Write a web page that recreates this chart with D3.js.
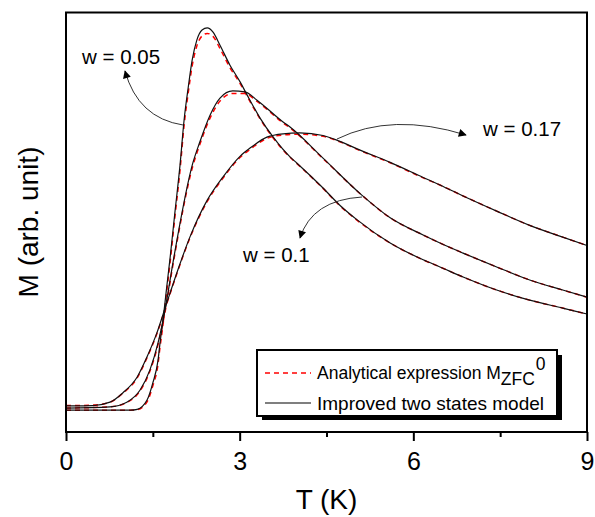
<!DOCTYPE html>
<html>
<head>
<meta charset="utf-8">
<script src="https://cdn.jsdelivr.net/npm/d3@7"></script>
<style>
  html, body { margin: 0; padding: 0; background: #fff; }
  svg { display: block; font-family: "Liberation Sans", Arial, sans-serif; }
</style>
</head>
<body>
<svg id="chart" width="595" height="517"></svg>
<script>
// ZFC magnetisation curves M(T) for three distribution widths w
const tW005 = [0, 0.59, 1.11, 1.23, 1.40, 1.50, 1.59, 1.62, 1.68, 1.73, 1.80, 1.88, 1.97, 2.04, 2.11, 2.18, 2.26, 2.35, 2.44, 2.54, 2.66, 2.83, 3.01, 3.13, 3.35, 3.58, 3.87, 3.99, 4.44, 4.73, 5.03, 5.60, 6.17, 6.46, 6.86, 7.44, 8.01, 8.58, 9.0];
const modelW005 = [5.2, 5.2, 5.2, 5.4, 7.6, 11.7, 17.1, 20.7, 27.1, 33.3, 41.7, 52.1, 63.6, 74.3, 81.9, 88.6, 93.3, 95.7, 96.2, 95.2, 92.1, 87.4, 83.3, 80.2, 74.8, 70.2, 65.5, 64.0, 58.1, 54.0, 50.5, 45.0, 41.0, 39.3, 36.9, 33.8, 31.4, 29.5, 28.1];
const analyticW005 = [5.2, 5.2, 5.2, 5.3, 7.2, 11.0, 16.2, 19.7, 26.0, 32.2, 40.6, 51.0, 62.4, 73.0, 80.6, 87.2, 91.9, 94.3, 94.9, 94.2, 91.3, 86.8, 82.9, 79.9, 74.6, 70.0, 65.4, 63.9, 58.0, 53.9, 50.4, 45.0, 41.0, 39.3, 36.9, 33.8, 31.4, 29.5, 28.1];

const tW01 = [0, 0.76, 1.05, 1.28, 1.45, 1.59, 1.71, 1.85, 2.19, 2.31, 2.49, 2.66, 2.88, 3.09, 3.30, 3.75, 3.87, 4.44, 5.11, 5.60, 6.17, 6.46, 6.86, 7.44, 8.01, 8.58, 9.0];
const modelW01 = [5.7, 6.0, 7.1, 10.0, 14.8, 21.2, 29.0, 40.5, 64.0, 69.0, 75.5, 79.5, 81.2, 81.0, 79.0, 73.8, 72.6, 65.2, 56.4, 51.0, 46.9, 45.0, 42.6, 39.3, 36.2, 33.8, 32.1];
const analyticW01 = [5.7, 6.0, 7.0, 9.8, 14.5, 20.8, 28.5, 40.0, 63.3, 68.4, 74.8, 78.8, 80.6, 80.6, 78.7, 73.6, 72.4, 65.1, 56.4, 51.0, 46.9, 45.0, 42.6, 39.3, 36.2, 33.8, 32.1];

const tW017 = [0, 0.12, 0.47, 0.76, 0.98, 1.23, 1.40, 1.57, 1.74, 1.92, 2.14, 2.44, 2.71, 3.01, 3.18, 3.47, 3.75, 4.04, 4.44, 4.73, 5.03, 5.60, 6.17, 6.46, 6.86, 7.44, 8.01, 8.58, 9.0];
const modelW017 = [6.2, 6.2, 6.3, 7.1, 9.3, 13.1, 17.9, 23.6, 30.7, 38.1, 46.4, 55.2, 60.7, 65.7, 67.6, 70.2, 71.0, 71.2, 70.6, 69.2, 67.4, 64.2, 60.6, 58.8, 56.2, 52.6, 49.2, 46.4, 44.4];
const analyticW017 = [6.3, 6.3, 6.4, 7.1, 9.2, 12.9, 17.7, 23.4, 30.5, 37.9, 46.2, 54.9, 60.4, 65.4, 67.3, 69.9, 70.7, 70.9, 70.4, 69.1, 67.3, 64.1, 60.5, 58.8, 56.2, 52.6, 49.2, 46.4, 44.4];

const majorTicks = [0, 3, 6, 9];
const minorTicks = [1.5, 4.5, 7.5];
const legendLabels = ["Analytical expression M", "Improved two states model"];

const svg = d3.select("#chart");
const x = d3.scaleLinear().domain([0, 9]).range([66, 587]);
const y = d3.scaleLinear().domain([0, 100]).range([432, 12]);

const line = d3.line()
  .x(d => x(d[0]))
  .y(d => y(d[1]))
  .curve(d3.curveMonotoneX);

const pairs = (ts, ms) => ts.map((t, i) => [t, ms[i]]);

const analytic = [pairs(tW005, analyticW005), pairs(tW01, analyticW01), pairs(tW017, analyticW017)];
const model = [pairs(tW005, modelW005), pairs(tW01, modelW01), pairs(tW017, modelW017)];

const curves = svg.append("g");
curves.selectAll("path.analytic").data(analytic).join("path")
  .attr("class", "analytic")
  .attr("d", line)
  .attr("fill", "none")
  .attr("stroke", "#ff0000")
  .attr("stroke-width", 1.5)
  .attr("stroke-dasharray", "5,4");
curves.selectAll("path.model").data(model).join("path")
  .attr("class", "model")
  .attr("d", line)
  .attr("fill", "none")
  .attr("stroke", "#111")
  .attr("stroke-width", 1.2);

// frame
svg.append("rect")
  .attr("x", x(0)).attr("y", y(100) + 0.5)
  .attr("width", x(9) - x(0)).attr("height", y(0) - y(100) - 0.5)
  .attr("fill", "none").attr("stroke", "#000").attr("stroke-width", 2);

// bottom axis: labelled major ticks and short minor ticks
const axMajor = svg.append("g")
  .attr("transform", `translate(0,${y(0)})`)
  .call(d3.axisBottom(x).tickValues(majorTicks).tickSize(9).tickPadding(11).tickFormat(d3.format("d")));
axMajor.select(".domain").remove();
axMajor.selectAll("line").attr("stroke-width", 2);
axMajor.selectAll("text").attr("font-size", 25).attr("font-family", "'Liberation Sans', Arial, sans-serif").attr("fill", "#000");

const axMinor = svg.append("g")
  .attr("transform", `translate(0,${y(0)})`)
  .call(d3.axisBottom(x).tickValues(minorTicks).tickSize(5).tickFormat(""));
axMinor.select(".domain").remove();
axMinor.selectAll("line").attr("stroke-width", 2);

// axis titles
svg.append("text")
  .attr("x", (x(0) + x(9)) / 2).attr("y", 509)
  .attr("text-anchor", "middle").attr("font-size", 28)
  .text("T (K)");
svg.append("text")
  .attr("transform", `translate(38,${(y(0) + y(100)) / 2}) rotate(-90)`)
  .attr("text-anchor", "middle").attr("font-size", 28)
  .text("M (arb. unit)");

// curve annotations with arrows
svg.append("defs").append("marker")
  .attr("id", "head")
  .attr("viewBox", "0 0 10 10")
  .attr("refX", 9).attr("refY", 5)
  .attr("markerWidth", 10).attr("markerHeight", 8)
  .attr("markerUnits", "userSpaceOnUse")
  .attr("orient", "auto")
  .append("path").attr("d", "M0,0L10,5L0,10Z").attr("fill", "#000");

const notes = [
  { label: "w = 0.05", tx: 82, ty: 64, path: [[183, 125], [138, 118], [125, 71]] },
  { label: "w = 0.17", tx: 483, ty: 136, path: [[337, 139], [392, 112], [466, 135]] },
  { label: "w = 0.1", tx: 243, ty: 262, path: [[362, 197], [312, 200], [300, 238]] }
];
notes.forEach(n => {
  const [a, c, b] = n.path;
  svg.append("path")
    .attr("d", `M${a[0]},${a[1]}Q${c[0]},${c[1]} ${b[0]},${b[1]}`)
    .attr("fill", "none").attr("stroke", "#333").attr("stroke-width", 1)
    .attr("marker-end", "url(#head)");
  svg.append("text").attr("x", n.tx).attr("y", n.ty)
    .attr("font-size", 20.5).text(n.label);
});

// legend with drop shadow
const lg = svg.append("g");
lg.append("rect").attr("x", 262).attr("y", 355).attr("width", 300).attr("height", 65).attr("fill", "#000");
lg.append("rect").attr("x", 257).attr("y", 350).attr("width", 300).attr("height", 66)
  .attr("fill", "#fff").attr("stroke", "#000").attr("stroke-width", 2);
lg.append("line").attr("x1", 265).attr("x2", 311).attr("y1", 373).attr("y2", 373)
  .attr("stroke", "#ff0000").attr("stroke-width", 1.5).attr("stroke-dasharray", "5,4");
lg.append("line").attr("x1", 265).attr("x2", 311).attr("y1", 403).attr("y2", 403)
  .attr("stroke", "#000").attr("stroke-width", 1.2);
const t1 = lg.append("text").attr("x", 317).attr("y", 379).attr("font-size", 17.5);
t1.append("tspan").text(legendLabels[0]);
t1.append("tspan").attr("dy", 6).text("ZFC");
t1.append("tspan").attr("dy", -15).attr("dx", 1).text("0");
lg.append("text").attr("x", 317).attr("y", 410).attr("font-size", 19).text(legendLabels[1]);
</script>
</body>
</html>
